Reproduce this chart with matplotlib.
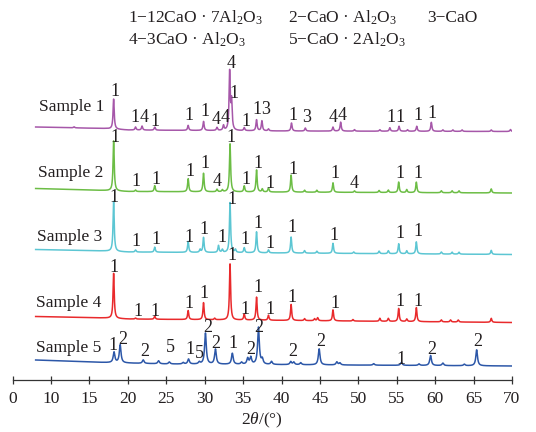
import numpy as np
import matplotlib
matplotlib.use("Agg")
import matplotlib.pyplot as plt

plt.rcParams['font.family'] = ['Liberation Serif', 'DejaVu Serif']
plt.rcParams['mathtext.fontset'] = 'custom'
plt.rcParams['mathtext.rm'] = 'Liberation Serif'
plt.rcParams['mathtext.it'] = 'Liberation Serif:italic'

# peak lists (2theta, height above baseline)
s1_peaks = [(13.0, 1), (18.15, 30), (21.0, 3), (21.85, 4), (23.5, 3), (27.85, 5),
            (29.85, 9), (31.6, 3), (32.45, 5), (33.25, 58), (33.5, 28), (35.15, 3),
            (36.75, 11), (37.45, 10), (38.3, 2), (41.3, 8), (43.1, 3), (46.7, 4),
            (47.7, 9), (49.5, 1.5), (52.8, 1.5), (54.1, 3.5), (55.3, 5), (56.4, 1.5),
            (57.6, 5), (59.5, 9), (61.0, 1.5), (62.3, 1.5), (63.5, 1.5), (67.3, 1.5),
            (69.8, 2)]
s2_peaks = [(18.15, 50), (21.0, 1.5), (23.5, 6), (27.85, 13), (29.85, 18.5), (31.6, 2.5),
            (32.3, 2), (33.3, 48), (35.15, 6), (36.75, 22), (37.5, 3), (38.3, 4),
            (41.25, 17), (43.0, 2), (44.6, 2), (46.7, 9.5), (49.5, 1.5), (52.7, 2),
            (53.9, 2.5), (55.25, 10.5), (56.3, 3), (57.55, 10.5), (60.8, 2), (62.2, 2),
            (63.1, 2), (67.3, 4)]
s3_peaks = [(18.15, 50), (21.0, 2), (23.5, 5), (27.85, 11), (29.4, 3), (29.85, 15),
            (31.8, 7), (32.3, 3), (33.3, 50), (34.0, 3), (35.15, 5), (36.75, 21),
            (38.3, 3), (41.25, 16), (43.0, 2.5), (44.6, 2), (46.7, 10), (49.4, 1.5),
            (52.7, 2.5), (53.9, 3), (55.25, 10), (56.3, 3), (57.55, 12), (60.8, 2),
            (62.2, 2), (63.1, 2), (67.3, 4)]
s4_peaks = [(18.15, 45), (21.0, 1), (23.5, 3), (27.85, 9), (29.85, 17), (31.3, 1.5),
            (33.3, 56), (35.15, 6), (36.75, 23), (38.3, 5), (41.25, 16), (43.0, 2),
            (44.3, 2), (44.7, 3), (46.7, 11), (49.3, 1.5), (52.8, 3), (53.9, 3),
            (55.25, 13), (56.3, 2.5), (57.55, 14), (60.8, 2), (62.0, 2), (63.0, 2),
            (67.3, 4)]
s5_peaks = [(18.2, 10.5), (19.0, 18), (22.0, 3.5), (24.0, 3), (25.4, 2), (27.2, 1.5),
            (27.9, 5), (29.3, 2), (30.1, 31), (31.4, 15), (33.6, 11), (34.8, 2),
            (35.6, 6), (36.0, 7), (37.0, 37), (37.5, 5), (38.7, 3), (41.2, 3),
            (41.6, 2.5), (42.5, 2), (44.9, 16), (47.2, 3), (47.6, 2), (52.0, 1.5),
            (55.6, 3), (57.9, 1.5), (59.4, 10), (61.0, 2.5), (63.8, 1.5), (65.4, 16)]

# baseline anchors (2theta, level) including the stacking offset
s1_base = [(8, 253), (17, 251.5), (20, 250), (40, 249), (70, 248.5)]
s2_base = [(8, 191.5), (17, 189.5), (20, 188.5), (70, 187)]
s3_base = [(8, 130.5), (17, 129), (20, 128), (70, 125.5)]
s4_base = [(8, 63.5), (17, 62), (20, 61), (70, 57.5)]
s5_base = [(8, 20), (17, 17.5), (25, 16), (70, 14)]

names = ['Sample 1', 'Sample 2', 'Sample 3', 'Sample 4', 'Sample 5']
colors = ['#a657a9', '#6cbd45', '#5cc6d3', '#e92a2c', '#2c57a8']
widths = [0.09, 0.09, 0.09, 0.09, 0.13]
name_pos = [(8.5, 273), (8.3, 207), (8.2, 143), (8.05, 77), (8.05, 32)]

# phase labels (2theta, y, text)
s1_labels = [(18.3, 288, '1'), (20.95, 262, '1'), (22.1, 262, '4'), (23.5, 258, '1'),
             (27.9, 265, '1'), (30.0, 268, '1'), (31.5, 261, '4'), (32.65, 262, '4'),
             (33.4, 316, '4'), (33.8, 286, '1'), (35.35, 258, '1'), (36.85, 270, '1'),
             (37.95, 270, '3'), (41.5, 265, '1'), (43.3, 262, '3'), (46.7, 262, '4'),
             (47.95, 265, '4'), (54.25, 263, '1'), (55.4, 263, '1'), (57.7, 264, '1'),
             (59.6, 267, '1')]
s2_labels = [(18.3, 243, '1'), (21.1, 198, '1'), (23.65, 201, '1'), (28.1, 208, '1'),
             (30.0, 216, '1'), (31.6, 199, '4'), (33.4, 243, '1'), (35.35, 201, '1'),
             (36.95, 217, '1'), (38.5, 197, '1'), (41.5, 210, '1'), (46.9, 207, '1'),
             (49.5, 197, '4'), (55.4, 207, '1'), (57.8, 207, '1')]
s3_labels = [(18.2, 183, '1'), (21.0, 138, '1'), (23.65, 140, '1'), (28.0, 143, '1'),
             (29.9, 151, '1'), (32.3, 143, '1'), (33.6, 180, '1'), (35.3, 141, '1'),
             (36.9, 157, '1'), (38.5, 137, '1'), (41.4, 152, '1'), (46.8, 144, '1'),
             (55.4, 147, '1'), (57.8, 148, '1')]
s4_labels = [(18.2, 113, '1'), (33.6, 124, '1'), (21.35, 68, '1'), (23.5, 68, '1'),
             (28.0, 76, '1'), (29.9, 87, '1'), (35.3, 71, '1'), (36.9, 92, '1'),
             (38.5, 70, '1'), (41.4, 83, '1'), (46.9, 77, '1'), (55.4, 78, '1'),
             (57.7, 78, '1')]
s5_labels = [(18.1, 35, '1'), (19.35, 40, '2'), (22.2, 28, '2'), (25.6, 32, '5'),
             (28.1, 30, '1'), (29.3, 27, '5'), (30.4, 52, '2'), (31.5, 37, '2'),
             (33.7, 36, '1'), (36.0, 31, '2'), (37.1, 53, '2'), (41.4, 28, '2'),
             (45.1, 38, '2'), (55.6, 20, '1'), (59.6, 30, '2'), (65.6, 38, '2')]

legend_rows = [[(20.05, 362, r'1−12CaO · 7Al$_2$O$_3$'), (40.85, 362, r'2−CaO · Al$_2$O$_3$'),
                (59.0, 362, '3−CaO')],
               [(20.05, 340, r'4−3CaO · Al$_2$O$_3$'), (40.85, 340, r'5−CaO · 2Al$_2$O$_3$')]]

tick_pos = list(range(5, 75, 5))
tick_lab = ['0'] + [str(t) for t in range(10, 75, 5)]

peaks = [s1_peaks, s2_peaks, s3_peaks, s4_peaks, s5_peaks]
bases = [s1_base, s2_base, s3_base, s4_base, s5_base]
labels = [s1_labels, s2_labels, s3_labels, s4_labels, s5_labels]

fig = plt.figure(figsize=(5.36, 4.32), dpi=100)
ax = fig.add_axes([12.6 / 536, 52 / 432, (512 - 12.6) / 536, 380 / 432])

tt = np.arange(8.0, 70.0001, 0.01)
for pk, bs, col, w in zip(peaks, bases, colors, widths):
    bx, by = zip(*bs)
    y = np.interp(tt, bx, by)
    for x0, h in pk:
        y = y + h / (1 + ((tt - x0) / w) ** 2)
    ax.plot(tt, y, color=col, lw=1.1)

txt = '#231f20'
for lab in labels:
    for x, y, s in lab:
        ax.text(x, y, s, ha='center', va='center', fontsize=13, color=txt)
for (x, y), s in zip(name_pos, names):
    ax.text(x, y, s, ha='left', va='center', fontsize=12.5, color=txt)
for row in legend_rows:
    for x, y, s in row:
        ax.text(x, y, s, ha='left', va='center', fontsize=12.5, color=txt)

ax.set_xlim(5, 70)
ax.set_ylim(0, 380)
ax.set_xticks(tick_pos)
ax.set_xticklabels(tick_lab, fontsize=12.5, color=txt)
ax.set_yticks([])
for side in ['left', 'right', 'top']:
    ax.spines[side].set_visible(False)
ax.spines['bottom'].set_color('#333333')
ax.spines['bottom'].set_linewidth(0.9)
ax.tick_params(axis='x', direction='inout', length=6, width=0.9, color='#333333', pad=5)
ax.set_xlabel(r'2$\theta$/(°)', fontsize=12.5, color=txt, labelpad=3)
ax.patch.set_alpha(0)

fig.savefig('out.png', dpi=100)
